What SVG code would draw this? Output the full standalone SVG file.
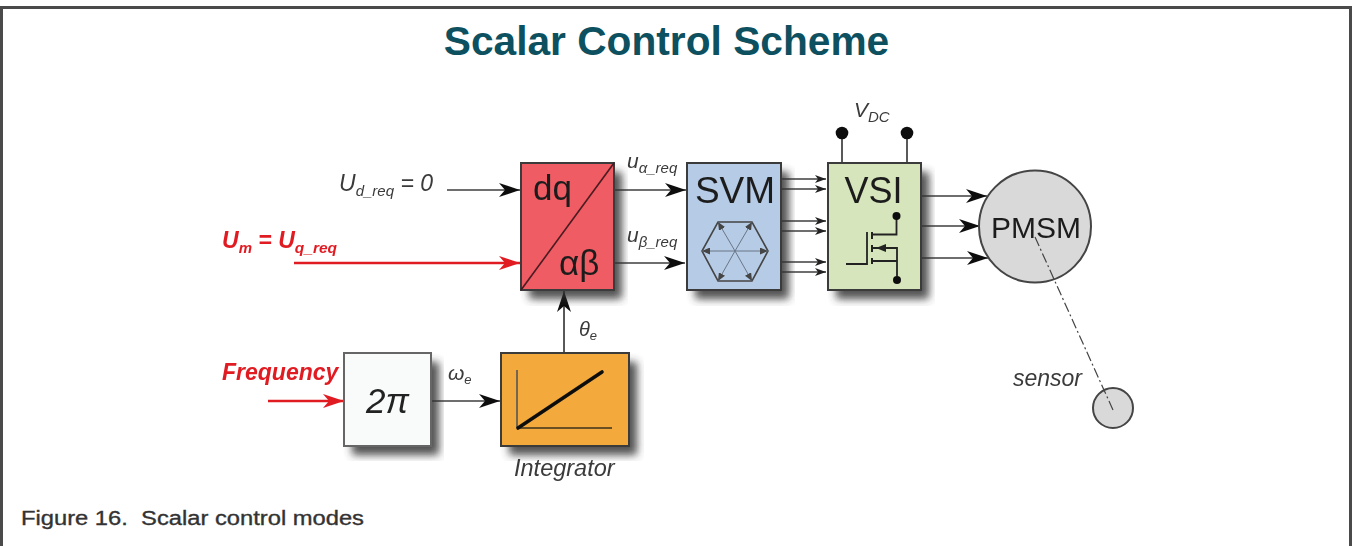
<svg xmlns="http://www.w3.org/2000/svg" width="1352" height="546" viewBox="0 0 1352 546">
<style>
text{font-family:"Liberation Sans",Arial,sans-serif}
.i{font-style:italic;fill:#3a3a3a}
.r{font-style:italic;font-weight:bold;fill:#e01c24}
.b{stroke:#3a3a3a;stroke-width:2}
.l{fill:none;stroke:#3c3c3c;stroke-width:1.7}
.t{fill:#1d1d1d}
.rl{fill:none;stroke:#e01c24;stroke-width:2.6}
.sh{fill:#333;opacity:.85}
.sp{stroke:#6a7686;stroke-width:1}
</style>
<defs>
<filter id="s" x="-25%" y="-25%" width="160%" height="160%"><feGaussianBlur stdDeviation="4"/></filter>
<filter id="soft" x="-5%" y="-5%" width="110%" height="110%"><feGaussianBlur stdDeviation="0.5"/></filter>
<marker id="a" markerUnits="userSpaceOnUse" markerWidth="22" markerHeight="14" refX="21" refY="7" orient="auto"><path d="M0 0L21 7L0 14L6 7Z" fill="#111"/></marker>
<marker id="am" markerUnits="userSpaceOnUse" markerWidth="12" markerHeight="8" refX="11" refY="4" orient="auto"><path d="M0 0L11 4L0 8L3 4Z" fill="#222"/></marker>
<marker id="ar" markerUnits="userSpaceOnUse" markerWidth="22" markerHeight="14" refX="21" refY="7" orient="auto"><path d="M0 0L21 7L0 14L6 7Z" fill="#e01c24"/></marker>
<marker id="h" markerUnits="userSpaceOnUse" markerWidth="9" markerHeight="7" refX="8" refY="3.5" orient="auto"><path d="M0 0L8 3.5L0 7Z" fill="#444"/></marker>
</defs>
<rect width="1352" height="546" fill="#fff"/>
<path d="M1.5 546V7.5H1350.5V546" fill="none" stroke="#4a4a4a" stroke-width="3"/>
<text x="666.5" y="55" font-size="40.7" font-weight="bold" text-anchor="middle" fill="#0d5060">Scalar Control Scheme</text>
<text x="21" y="525" font-size="20" fill="#333" stroke="#333" stroke-width=".35" xml:space="preserve" textLength="343" lengthAdjust="spacingAndGlyphs">Figure 16.  Scalar control modes</text>

<g id="connectors" filter="url(#soft)">
<path class="l" d="M447 190H520" marker-end="url(#a)"/>
<path class="rl" d="M294 263H520" marker-end="url(#ar)"/>
<path class="rl" d="M268 401H344" marker-end="url(#ar)"/>
<path class="l" d="M431 401H500" marker-end="url(#a)"/>
<path class="l" d="M564 353V291" marker-end="url(#a)"/>
<path class="l" d="M614 190H686" marker-end="url(#a)"/>
<path class="l" d="M614 263H685" marker-end="url(#a)"/>
<path class="l" d="M781 179H826" marker-end="url(#am)"/>
<path class="l" d="M781 189H826" marker-end="url(#am)"/>
<path class="l" d="M781 221H826" marker-end="url(#am)"/>
<path class="l" d="M781 231H826" marker-end="url(#am)"/>
<path class="l" d="M781 262H826" marker-end="url(#am)"/>
<path class="l" d="M781 272H826" marker-end="url(#am)"/>
<path class="l" d="M921 196H987" marker-end="url(#a)"/>
<path class="l" d="M921 226H980" marker-end="url(#a)"/>
<path class="l" d="M921 258H988" marker-end="url(#a)"/>
<path d="M842 162V133M907 162V133" class="l"/>
<circle cx="842" cy="133" r="6.3" fill="#111"/>
<circle cx="907" cy="133" r="6.3" fill="#111"/>
</g>

<g id="dq-ab" filter="url(#soft)">
<rect x="529" y="172" width="93" height="127" class="sh" filter="url(#s)"/>
<rect class="b" x="521" y="163" width="93" height="127" fill="#ef5b63"/>
<path d="M521 290L614 163" stroke="#4a1a20" stroke-width="1.6"/>
<text class="t" x="533" y="200" font-size="35">dq</text>
<text class="t" x="559" y="275" font-size="35">αβ</text>
</g>

<g id="svm" filter="url(#soft)">
<rect x="695" y="172" width="94" height="127" class="sh" filter="url(#s)"/>
<rect class="b" x="687" y="163" width="94" height="127" fill="#b5cbe6"/>
<text class="t" x="735" y="203" font-size="37" text-anchor="middle">SVM</text>
<path d="M718 222H752L768 251L752 281H718L702 251Z" fill="none" stroke="#444" stroke-width="1.6"/>
<path class="sp" d="M735 251L718 222" marker-end="url(#h)"/>
<path class="sp" d="M735 251L752 222" marker-end="url(#h)"/>
<path class="sp" d="M735 251L768 251" marker-end="url(#h)"/>
<path class="sp" d="M735 251L752 281" marker-end="url(#h)"/>
<path class="sp" d="M735 251L718 281" marker-end="url(#h)"/>
<path class="sp" d="M735 251L702 251" marker-end="url(#h)"/>
</g>

<g id="vsi" filter="url(#soft)">
<rect x="836" y="172" width="93" height="127" class="sh" filter="url(#s)"/>
<rect class="b" x="828" y="163" width="93" height="127" fill="#d6e5bb"/>
<text class="t" x="873.5" y="203" font-size="36" text-anchor="middle">VSI</text>
<path d="M846 264H867V232" fill="none" stroke="#222" stroke-width="1.8"/>
<path d="M872 232V239M872 245V252M872 258V264" fill="none" stroke="#222" stroke-width="2"/>
<path d="M872 234.500H896.500V216M872 248H897V280M872 261H897" fill="none" stroke="#222" stroke-width="1.8"/>
<path d="M876 248L886 244V252Z" fill="#222"/>
<circle cx="896.500" cy="216" r="4" fill="#111"/>
<circle cx="897" cy="280" r="4" fill="#111"/>
</g>

<g id="pmsm" filter="url(#soft)">
<circle cx="1035" cy="226.500" r="56" fill="#d9d9d9" stroke="#444" stroke-width="2"/>
<text class="t" x="1036" y="238" font-size="30" text-anchor="middle">PMSM</text>
</g>

<g id="sensor-disc" filter="url(#soft)">
<circle cx="1113" cy="408" r="20" fill="#d9d9d9" stroke="#444" stroke-width="2"/>
</g>
<path id="sensor-line" d="M1035 237L1113 410" fill="none" stroke="#444" stroke-width="1.2" stroke-dasharray="10 3 2 3" filter="url(#soft)"/>

<g id="two-pi" filter="url(#soft)">
<rect x="352" y="362" width="87" height="93" class="sh" filter="url(#s)"/>
<rect x="344" y="353" width="87" height="93" fill="#f8fbfa" stroke="#666" stroke-width="2"/>
<text x="387.500" y="413" font-size="35" font-style="italic" text-anchor="middle" fill="#222">2π</text>
</g>

<g id="integrator" filter="url(#soft)">
<rect x="509" y="362" width="128" height="93" class="sh" filter="url(#s)"/>
<rect class="b" x="501" y="353" width="128" height="93" fill="#f3a93b"/>
<path d="M517 370V428" fill="none" stroke="#555" stroke-width="1.6"/>
<path d="M517 428H612" fill="none" stroke="#6b5020" stroke-width="2.2"/>
<path d="M518 428L602 372" stroke="#111" stroke-width="3.6" stroke-linecap="round"/>
</g>

<g id="labels" filter="url(#soft)">
<text class="i" x="339" y="191" font-size="23">U<tspan font-size="15" dy="5">d_req</tspan><tspan dy="-5"> = 0</tspan></text>
<text class="r" x="222" y="248" font-size="23">U<tspan font-size="15" dy="5">m</tspan><tspan dy="-5"> = U</tspan><tspan font-size="15.500" dy="5">q_req</tspan></text>
<text class="r" x="222" y="380" font-size="23">Frequency</text>
<text class="i" x="627" y="168" font-size="21">u<tspan font-size="15" dy="5">α_req</tspan></text>
<text class="i" x="627" y="242" font-size="21">u<tspan font-size="15" dy="5">β_req</tspan></text>
<text class="i" x="579" y="336" font-size="20">θ<tspan font-size="13" dy="4">e</tspan></text>
<text class="i" x="448" y="380" font-size="21">ω<tspan font-size="13" dy="4">e</tspan></text>
<text class="i" x="514" y="476" font-size="23.500">Integrator</text>
<text class="i" x="854" y="117" font-size="21">V<tspan font-size="15" dy="5">DC</tspan></text>
<text class="i" x="1013" y="386" font-size="23">sensor</text>
</g>
</svg>
